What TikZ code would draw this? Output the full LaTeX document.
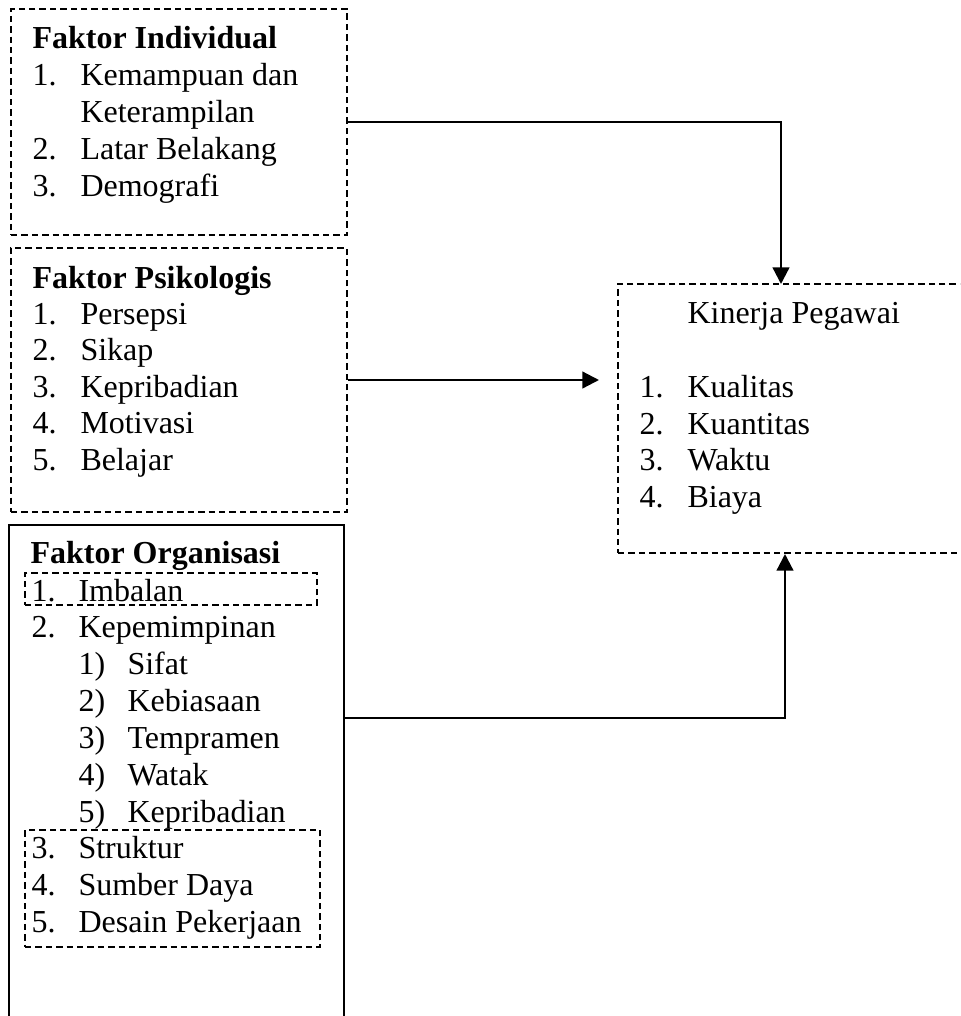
\documentclass[tikz,border=0pt]{standalone}
\usepackage{fontspec}
\setmainfont{Liberation Serif}
\usetikzlibrary{arrows.meta,fit}
\begin{document}
\begin{tikzpicture}[x=0.375pt,y=-0.375pt,
  txt/.style={anchor=base west,inner sep=0pt,font=\fontsize{12}{13.8}\selectfont},
  hd/.style={txt,font=\fontsize{12}{13.8}\selectfont\bfseries},
  dbox/.style={draw,dashed,dash pattern=on 2.4pt off 1.5pt,line width=0.65pt,inner sep=0pt},
  sbox/.style={draw,line width=0.75pt,inner sep=0pt},
  arr/.style={line width=0.85pt,-{Triangle[length=6.2pt,width=6.2pt]}}]
\useasboundingbox (0,0) rectangle (960,1016);
\clip (0,0) rectangle (960,1016);
% boxes
\node[dbox,fit={(11,9) (347,235)}] (ind) {};
\node[dbox,fit={(11,248) (347,512)}] (psi) {};
\node[sbox,fit={(9,525) (344,1040)}] (org) {};
\node[dbox,fit={(25,573) (317,605)}] (imb) {};
\node[dbox,fit={(25,830) (320,947)}] (str) {};
\node[dbox,fit={(618,284) (980,553)}] (kin) {};
% Faktor Individual
\node[hd] (h1) at (32,48) {Faktor Individual};
\node[txt] (i1n) at (32,85) {1.};
\node[txt] (i1t) at (80,85) {Kemampuan dan};
\node[txt] (i1u) at (80,122) {Keterampilan};
\node[txt] (i2n) at (32,159) {2.};
\node[txt] (i2t) at (80,159) {Latar Belakang};
\node[txt] (i3n) at (32,196) {3.};
\node[txt] (i3t) at (80,196) {Demografi};
% Faktor Psikologis
\node[hd] (h2) at (32,288) {Faktor Psikologis};
\node[txt] (p1n) at (32,324) {1.};
\node[txt] (p1t) at (80,324) {Persepsi};
\node[txt] (p2n) at (32,360) {2.};
\node[txt] (p2t) at (80,360) {Sikap};
\node[txt] (p3n) at (32,397) {3.};
\node[txt] (p3t) at (80,397) {Kepribadian};
\node[txt] (p4n) at (32,433) {4.};
\node[txt] (p4t) at (80,433) {Motivasi};
\node[txt] (p5n) at (32,470) {5.};
\node[txt] (p5t) at (80,470) {Belajar};
% Faktor Organisasi
\node[hd] (h3) at (30,563) {Faktor Organisasi};
\node[txt] (o1n) at (31,601) {1.};
\node[txt] (o1t) at (78,601) {Imbalan};
\node[txt] (o2n) at (31,637) {2.};
\node[txt] (o2t) at (78,637) {Kepemimpinan};
\node[txt] (s1n) at (78,674) {1)};
\node[txt] (s1t) at (127,674) {Sifat};
\node[txt] (s2n) at (78,711) {2)};
\node[txt] (s2t) at (127,711) {Kebiasaan};
\node[txt] (s3n) at (78,748) {3)};
\node[txt] (s3t) at (127,748) {Tempramen};
\node[txt] (s4n) at (78,785) {4)};
\node[txt] (s4t) at (127,785) {Watak};
\node[txt] (s5n) at (78,822) {5)};
\node[txt] (s5t) at (127,822) {Kepribadian};
\node[txt] (o3n) at (31,858) {3.};
\node[txt] (o3t) at (78,858) {Struktur};
\node[txt] (o4n) at (31,895) {4.};
\node[txt] (o4t) at (78,895) {Sumber Daya};
\node[txt] (o5n) at (31,932) {5.};
\node[txt] (o5t) at (78,932) {Desain Pekerjaan};
% Kinerja Pegawai
\node[txt] (h4) at (687,323) {Kinerja Pegawai};
\node[txt] (k1n) at (639,397) {1.};
\node[txt] (k1t) at (687,397) {Kualitas};
\node[txt] (k2n) at (639,434) {2.};
\node[txt] (k2t) at (687,434) {Kuantitas};
\node[txt] (k3n) at (639,470) {3.};
\node[txt] (k3t) at (687,470) {Waktu};
\node[txt] (k4n) at (639,507) {4.};
\node[txt] (k4t) at (687,507) {Biaya};
% connectors
\coordinate (kt) at (781,284);
\coordinate (kl) at (599,380);
\coordinate (kb) at (785,554);
\coordinate (os) at (344,718);
\draw[arr] (ind.east) -| (kt);
\draw[arr] (psi.east) -- (kl);
\draw[arr] (os) -| (kb);
\end{tikzpicture}
\end{document}
